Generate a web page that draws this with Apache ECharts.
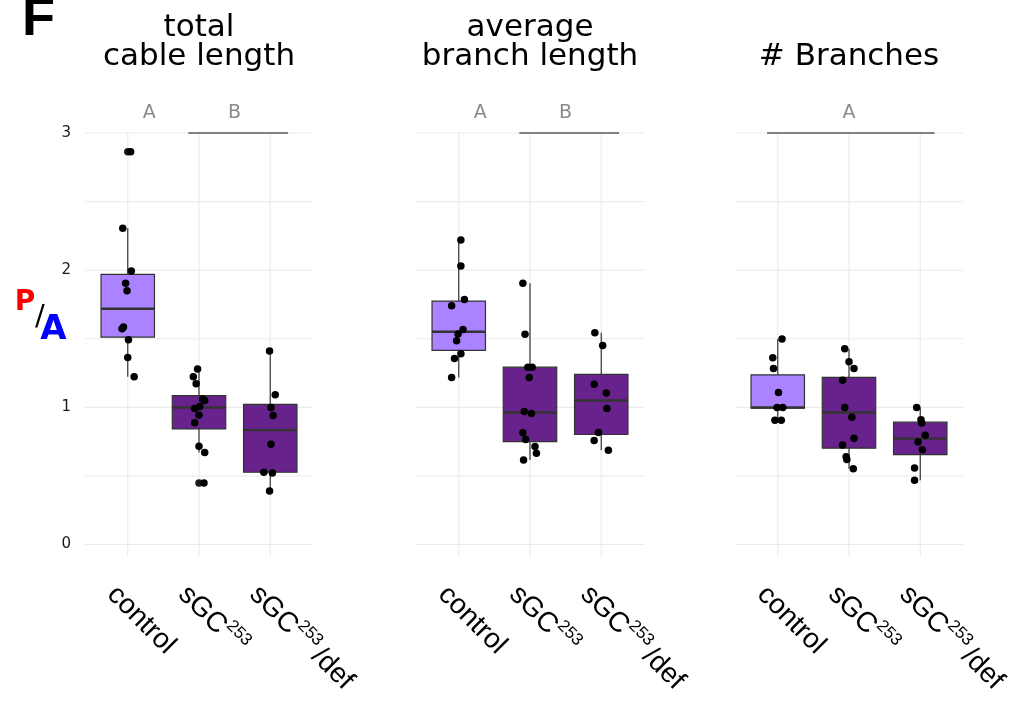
<!DOCTYPE html>
<html><head><meta charset="utf-8">
<script src="https://cdn.jsdelivr.net/npm/echarts@6/dist/echarts.min.js"></script>
<style>html,body{margin:0;padding:0;background:#fff}#c{width:1014px;height:708px}</style>
</head><body><div id="c"></div>
<script>
// ---------- data ----------
const categories = ['control', 'sGC253', 'sGC253/def'];
const categoryLabels = ['control', 'sGC{sup|253}', 'sGC{sup|253}{sp| }/def'];
const panelTitles = ['total\ncable length', 'average\nbranch length', '# Branches'];
const yTicks = [0, 1, 2, 3];
const yGridValues = [0, 0.5, 1, 1.5, 2, 2.5, 3];
const xGridValues = [1, 2, 3];

// box stats: [lower whisker, Q1, median, Q3, upper whisker] per category
const boxTotal    = [[1.223, 1.512, 1.719, 1.970, 2.305], [0.670, 0.843, 0.999, 1.086, 1.279], [0.391, 0.527, 0.834, 1.021, 1.410]];
const boxAverage  = [[1.218, 1.415, 1.551, 1.775, 2.220], [0.617, 0.750, 0.962, 1.293, 1.904], [0.688, 0.802, 1.050, 1.240, 1.544]];
const boxBranches = [[0.906, 0.995, 0.999, 1.237, 1.498], [0.553, 0.702, 0.962, 1.218, 1.427], [0.469, 0.655, 0.772, 0.892, 0.999]];

// individual points (values) and their horizontal jitter (category units)
const totalControl = [2.863, 2.305, 1.994, 1.904, 1.850, 1.585, 1.573, 1.493, 1.364, 1.223];
const totalControlJit = [0.04, -0.07, 0.05, -0.03, -0.01, -0.06, -0.08, 0.01, 0, 0.09];
const totalSgc = [1.279, 1.223, 1.172, 1.060, 1.050, 1.006, 0.991, 0.945, 0.887, 0.717, 0.670, 0.449];
const totalSgcJit = [-0.02, -0.08, -0.04, 0.05, 0.08, 0.01, -0.06, 0, -0.06, 0, 0.08, 0.07];
const totalDef = [1.410, 1.091, 0.999, 0.940, 0.731, 0.527, 0.522, 0.391];
const totalDefJit = [-0.01, 0.07, 0.01, 0.04, 0.01, -0.09, 0.03, -0.01];

const avgControl = [2.220, 2.031, 1.787, 1.741, 1.568, 1.534, 1.485, 1.391, 1.356, 1.218];
const avgControlJit = [0.03, 0.03, 0.08, -0.1, 0.06, -0.01, -0.03, 0.03, -0.06, -0.1];
const avgSgc = [1.904, 1.532, 1.293, 1.293, 1.218, 0.970, 0.955, 0.814, 0.765, 0.714, 0.666, 0.617];
const avgSgcJit = [-0.1, -0.07, -0.03, 0.03, -0.01, -0.08, 0.02, -0.1, -0.06, 0.07, 0.09, -0.09];
const avgDef = [1.544, 1.451, 1.169, 1.104, 0.991, 0.816, 0.758, 0.688];
const avgDefJit = [-0.09, 0.02, -0.1, 0.07, 0.08, -0.04, -0.1, 0.1];

const brControl = [1.498, 1.361, 1.283, 1.108, 0.999, 0.999, 0.906, 0.906];
const brControlJit = [0.06, -0.07, -0.06, 0.01, -0.01, 0.07, -0.04, 0.05];
const brSgc = [1.427, 1.332, 1.283, 1.198, 0.999, 0.928, 0.775, 0.726, 0.639, 0.619, 0.553];
const brSgcJit = [-0.06, 0, 0.07, -0.09, -0.06, 0.04, 0.07, -0.09, -0.04, -0.03, 0.06];
const brDef = [0.999, 0.909, 0.885, 0.797, 0.748, 0.690, 0.558, 0.469];
const brDefJit = [-0.05, 0.01, 0.02, 0.07, -0.03, 0.03, -0.08, -0.08];

// outliers drawn at category centre: [category index (1-based), value]
const outTotal = [[1, 2.863], [2, 0.449]];
const outAverage = [];
const outBranches = [];

// significance letters: [letter, x position]; bracket: [x start, x end] at y = 3
const lettersTotal = [['A', 1.3], ['B', 2.5]];
const lettersAverage = [['A', 1.3], ['B', 2.5]];
const lettersBranches = [['A', 2.0]];
const bracketTotal = [1.85, 3.25];
const bracketAverage = [1.85, 3.25];
const bracketBranches = [0.85, 3.2];

// ---------- layout / style ----------
const X_MIN = 0.4, X_MAX = 3.6, Y_MIN = -0.091, Y_MAX = 3, LETTER_Y = 3.145;
const panelLefts = [85, 416, 735];
const PANEL_W = 228, GRID_TOP = 133, GRID_H = 424;
const boxColors = ['#AB82FF', '#68228B', '#68228B'];
const FONT = 'DejaVu Sans';

const panels = [
  {box: boxTotal, pts: [[totalControl, totalControlJit], [totalSgc, totalSgcJit], [totalDef, totalDefJit]], out: outTotal, letters: lettersTotal, bracket: bracketTotal},
  {box: boxAverage, pts: [[avgControl, avgControlJit], [avgSgc, avgSgcJit], [avgDef, avgDefJit]], out: outAverage, letters: lettersAverage, bracket: bracketAverage},
  {box: boxBranches, pts: [[brControl, brControlJit], [brSgc, brSgcJit], [brDef, brDefJit]], out: outBranches, letters: lettersBranches, bracket: bracketBranches}
];

const grids = [], xAxes = [], yAxes = [], series = [], graphics = [];

panels.forEach((p, i) => {
  grids.push({left: panelLefts[i], top: GRID_TOP, width: PANEL_W, height: GRID_H, containLabel: false, outerBoundsMode: 'none'});
  xAxes.push({
    type: 'value', gridIndex: i, min: X_MIN, max: X_MAX,
    axisLine: {show: false}, axisTick: {show: false}, splitLine: {show: false},
    axisLabel: {
      show: true, customValues: [1, 2, 3],
      formatter: v => categoryLabels[Math.round(v) - 1],
      rotate: -45, align: 'left', verticalAlign: 'top', margin: 17,
      padding: [5, 0, 0, 0],
      fontFamily: 'Liberation Sans', fontSize: 28, color: '#000', lineHeight: 36,
      rich: {
        sup: {fontFamily: 'Liberation Sans', fontSize: 17, color: '#000', verticalAlign: 'top', lineHeight: 29},
        sp: {fontFamily: 'Liberation Sans', fontSize: 12, color: '#000', lineHeight: 36}
      }
    }
  });
  yAxes.push({
    type: 'value', gridIndex: i, min: Y_MIN, max: Y_MAX,
    axisLine: {show: false}, axisTick: {show: false}, splitLine: {show: false},
    axisLabel: {show: i === 0, customValues: yTicks, fontFamily: FONT, fontSize: 15, color: '#1a1a1a', margin: 14,
      formatter: v => String(Math.round(v))}
  });

  // gridlines
  const gridData = yGridValues.map(v => [X_MIN, v, X_MAX, v]).concat(xGridValues.map(v => [v, Y_MIN, v, Y_MAX]));
  series.push({
    type: 'custom', xAxisIndex: i, yAxisIndex: i, z: 0, silent: true,
    encode: {x: [0, 2], y: [1, 3]},
    data: gridData,
    renderItem: (params, api) => {
      const a = api.coord([api.value(0), api.value(1)]);
      const b = api.coord([api.value(2), api.value(3)]);
      return {type: 'line', shape: {x1: a[0], y1: a[1], x2: b[0], y2: b[1]}, style: {stroke: '#ebebeb', lineWidth: 1.1}};
    }
  });

  // boxes
  series.push({
    type: 'custom', xAxisIndex: i, yAxisIndex: i, z: 2, silent: true,
    encode: {x: 0, y: [1, 2, 3, 4, 5]},
    data: p.box.map((b, k) => [k + 1].concat(b).concat([k])),
    renderItem: (params, api) => {
      const x = api.value(0);
      const lo = api.coord([x, api.value(1)]), q1 = api.coord([x, api.value(2)]);
      const md = api.coord([x, api.value(3)]), q3 = api.coord([x, api.value(4)]);
      const hi = api.coord([x, api.value(5)]);
      const w = api.size([0.75, 0])[0];
      const ci = api.value(6);
      const st = {stroke: '#333333', lineWidth: 1.2};
      return {type: 'group', children: [
        {type: 'line', shape: {x1: hi[0], y1: hi[1], x2: q3[0], y2: q3[1]}, style: st},
        {type: 'line', shape: {x1: q1[0], y1: q1[1], x2: lo[0], y2: lo[1]}, style: st},
        {type: 'rect', shape: {x: q3[0] - w / 2, y: q3[1], width: w, height: q1[1] - q3[1]},
          style: {fill: boxColors[ci], stroke: '#333333', lineWidth: 1.2}},
        {type: 'line', shape: {x1: md[0] - w / 2, y1: md[1], x2: md[0] + w / 2, y2: md[1]},
          style: {stroke: '#333333', lineWidth: 2.4}}
      ]};
    }
  });

  // points
  const ptData = [];
  p.pts.forEach((g, k) => g[0].forEach((v, j) => ptData.push([k + 1 + g[1][j], v])));
  series.push({
    type: 'scatter', xAxisIndex: i, yAxisIndex: i, z: 4, silent: true,
    symbol: 'circle', symbolSize: 7.5, itemStyle: {color: '#000', opacity: 1},
    data: ptData
  });
  if (p.out.length) {
    series.push({
      type: 'scatter', xAxisIndex: i, yAxisIndex: i, z: 3, silent: true,
      symbol: 'circle', symbolSize: 7.5, itemStyle: {color: '#1a1a1a', opacity: 1},
      data: p.out
    });
  }

  // significance letters + bracket
  series.push({
    type: 'custom', xAxisIndex: i, yAxisIndex: i, z: 5, silent: true, clip: false,
    encode: {x: 0, y: 1},
    data: p.letters.map(l => [l[1], LETTER_Y]),
    renderItem: (params, api) => {
      const c = api.coord([api.value(0), api.value(1)]);
      return {type: 'text', x: c[0], y: c[1], style: {text: p.letters[params.dataIndex][0], fill: '#8a8a8a',
        font: '19px "' + FONT + '"', align: 'center', verticalAlign: 'middle'}};
    }
  });
  series.push({
    type: 'custom', xAxisIndex: i, yAxisIndex: i, z: 5, silent: true, clip: false,
    encode: {x: [0, 2], y: [1, 3]},
    data: [[p.bracket[0], Y_MAX, p.bracket[1], Y_MAX]],
    renderItem: (params, api) => {
      const a = api.coord([api.value(0), api.value(1)]);
      const b = api.coord([api.value(2), api.value(3)]);
      return {type: 'line', shape: {x1: a[0], y1: a[1], x2: b[0], y2: b[1]}, style: {stroke: '#808080', lineWidth: 2}};
    }
  });

  // panel title
  const two = panelTitles[i].indexOf('\n') >= 0;
  graphics.push({type: 'text', x: panelLefts[i] + PANEL_W / 2, y: two ? 13 : 42, style: {
    text: panelTitles[i], fill: '#000', font: '31px "' + FONT + '"', lineHeight: 29,
    align: 'center', verticalAlign: 'top'}});
});

graphics.push({type: 'text', x: 22, y: 20, style: {text: 'F', fill: '#000', font: 'bold 54px "Liberation Sans"', align: 'left', verticalAlign: 'middle'}});
graphics.push({type: 'text', x: 25, y: 303, style: {text: 'P', fill: '#ff0000', font: 'bold 28px "' + FONT + '"', align: 'center', verticalAlign: 'middle'}});
graphics.push({type: 'text', x: 40, y: 317, style: {text: '/', fill: '#000', font: '29px "' + FONT + '"', align: 'center', verticalAlign: 'middle'}});
graphics.push({type: 'text', x: 53.5, y: 330, style: {text: 'A', fill: '#0000ff', font: 'bold 34px "' + FONT + '"', align: 'center', verticalAlign: 'middle'}});

const chart = echarts.init(document.getElementById('c'), null, {renderer: 'canvas'});
chart.setOption({
  animation: false,
  backgroundColor: '#fff',
  grid: grids, xAxis: xAxes, yAxis: yAxes, series: series, graphic: graphics
});
</script></body></html>
